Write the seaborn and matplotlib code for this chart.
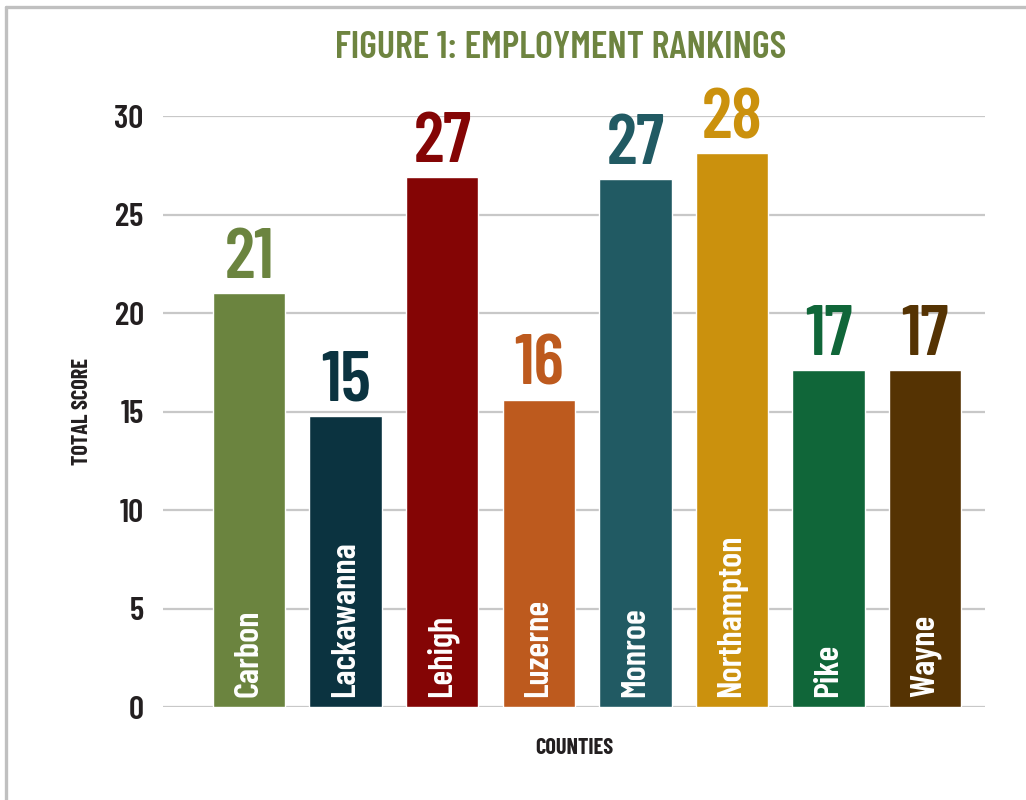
import matplotlib
matplotlib.use('Agg')
import matplotlib.pyplot as plt
import pandas as pd
import seaborn as sns
from matplotlib.lines import Line2D

# Data
counties = ['Carbon', 'Lackawanna', 'Lehigh', 'Luzerne', 'Monroe', 'Northampton', 'Pike', 'Wayne']
scores = [21.0, 14.8, 26.9, 15.6, 26.8, 28.1, 17.1, 17.1]
colors = ['#6b843f', '#0b3340', '#840505', '#bd5a1e', '#215a63', '#cb910d', '#106639', '#553303']
y_ticks = [0, 5, 10, 15, 20, 25, 30]

df = pd.DataFrame({'County': counties, 'Score': scores})

sns.set_theme(style='white')
plt.rcParams['font.family'] = ['Barlow Condensed', 'DejaVu Sans']
plt.rcParams['font.stretch'] = 'condensed'
plt.rcParams['font.weight'] = 'semibold'

dark = '#231f20'
fig = plt.figure(figsize=(10.26, 8), dpi=100)
ax = fig.add_axes([0.159, 0.116, 0.801, 0.739])

for y in y_ticks:
    ax.axhline(y, color='#c8c8c8', lw=1.6, zorder=0)

sns.barplot(data=df, x='County', y='Score', hue='County', palette=colors,
            width=0.75, saturation=1, legend=False, ax=ax, zorder=2)

ax.set_xlim(-0.89, 7.62)
ax.set_ylim(0, 30)
ax.set_yticks(y_ticks)
ax.set_yticklabels([str(t) for t in y_ticks], fontsize=24, color=dark, fontweight='semibold')
ax.tick_params(axis='y', length=0, pad=14)
ax.set_xticks([])
for s in ax.spines.values():
    s.set_visible(False)

# value labels above bars, county names inside bars
for i, (name, val, c) in enumerate(zip(counties, scores, colors)):
    ax.text(i, val + 0.05, str(round(val)), ha='center', va='bottom',
            fontsize=51, color=c, fontweight='semibold', clip_on=False)
    ax.text(i, 0.5, name, ha='center', va='bottom', rotation=90,
            fontsize=25, color='white', fontweight='semibold')

ax.set_ylabel('TOTAL SCORE', fontsize=16, color=dark, fontweight='bold', labelpad=16)
ax.set_xlabel('COUNTIES', fontsize=16, color=dark, fontweight='bold', labelpad=22)

fig.text(0.546, 0.94, 'FIGURE 1: EMPLOYMENT RANKINGS', ha='center', va='center',
         fontsize=27.5, color='#6e8440', fontweight='semibold')

# light gray frame on top and left edge
bx = 6 / 1026
by = 1 - 7 / 800
fig.add_artist(Line2D([bx, 1], [by, by], color='#c0c0c0', lw=2.4, transform=fig.transFigure))
fig.add_artist(Line2D([bx, bx], [0, by], color='#c0c0c0', lw=2.4, transform=fig.transFigure))

fig.savefig('out.png', dpi=100, facecolor='white')
